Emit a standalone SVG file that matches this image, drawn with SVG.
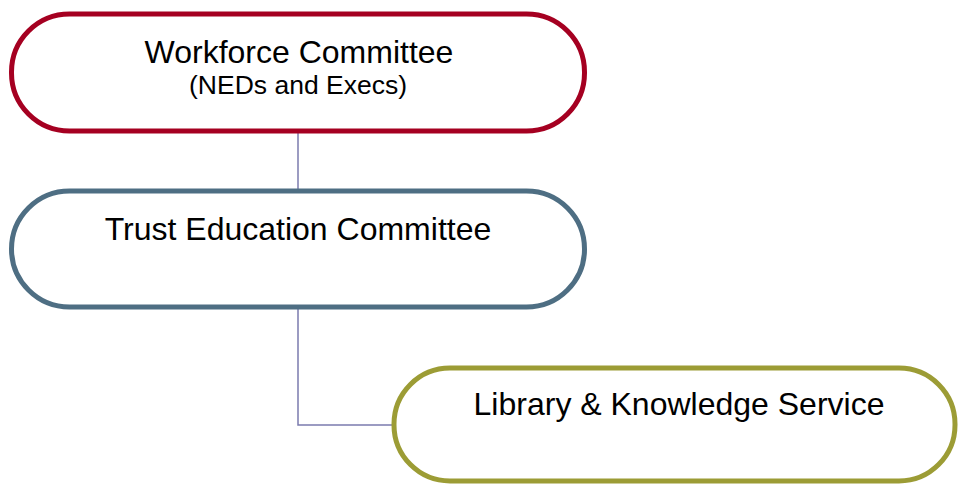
<svg xmlns="http://www.w3.org/2000/svg" width="959" height="485" viewBox="0 0 959 485">
<style>
.box{fill:#fff;stroke-width:5}
.t{font-family:"Liberation Sans",Arial,sans-serif;fill:#000;text-anchor:middle}
.c{fill:none;stroke:#7B7BAE;stroke-width:1.5}
</style>
<rect width="959" height="485" fill="#fff"/>
<g id="connectors">
<path class="c" d="M298,131 V191"/>
<path class="c" d="M298,307 V425 H394"/>
</g>
<g id="workforce">
<rect class="box" x="11.5" y="14" width="573" height="117" rx="58" ry="58" stroke="#A50021"/>
<text class="t" x="299" y="63" font-size="32">Workforce Committee</text>
<text class="t" x="298" y="94" font-size="26.5">(NEDs and Execs)</text>
</g>
<g id="trust">
<rect class="box" x="11.5" y="191" width="573" height="116" rx="58" ry="58" stroke="#4E6E83"/>
<text class="t" x="298" y="240" font-size="32">Trust Education Committee</text>
</g>
<g id="library">
<rect class="box" x="394" y="368" width="561" height="113" rx="56" ry="56" stroke="#9C9C35"/>
<text class="t" x="679" y="415" font-size="32">Library &amp; Knowledge Service</text>
</g>
</svg>
